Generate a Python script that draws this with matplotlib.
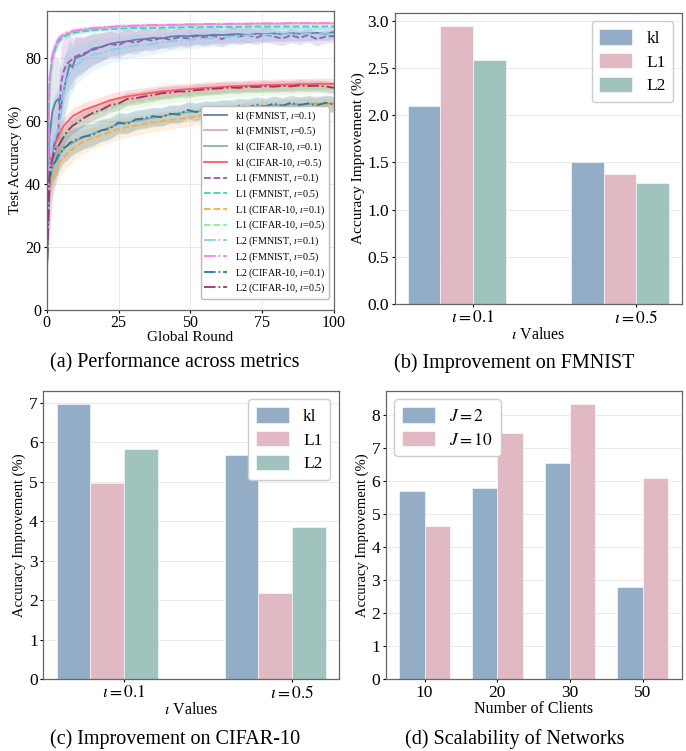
import matplotlib
matplotlib.use("Agg")
import matplotlib.pyplot as plt
from matplotlib.ticker import MultipleLocator
import numpy as np

plt.rcParams['font.family'] = ['Liberation Serif', 'DejaVu Serif']
plt.rcParams['mathtext.fontset'] = 'stix'

# ---- (a) test accuracy curves ----
rounds = [0, 1, 2, 3, 4, 5, 6, 7, 8, 9, 10, 13, 16, 19, 22, 25, 28, 31, 34, 37, 40,
          43, 46, 49, 52, 55, 58, 61, 64, 67, 70, 73, 76, 79, 82, 85, 88, 91, 94, 97, 100]

kl_fm1 = [12, 55, 63, 66, 67, 64, 70, 74, 78, 77, 80, 81, 83, 83.5, 84.5, 85, 85.3, 85.8, 86, 86.4, 86.2,
          86.8, 87, 86.9, 87.2, 87.1, 87.4, 87.3, 87.5, 87.6, 87.3, 87.7, 87.6, 87.8, 87.5, 87.9, 87.7, 87.8, 88, 87.6, 88.3]
kl_fm5 = [12, 72, 80, 83.5, 85.5, 86.5, 87.2, 87.6, 88, 88.3, 88.5, 89, 89.3, 89.6, 89.8, 90, 90.1, 90.2, 90.3, 90.4, 90.4,
          90.5, 90.5, 90.6, 90.6, 90.7, 90.7, 90.7, 90.8, 90.8, 90.8, 90.9, 90.9, 90.9, 90.9, 91, 91, 91, 91, 91, 91]
kl_c1 = [10, 40, 45, 47, 48, 50, 51, 52, 52.5, 53, 53.5, 55, 56, 57, 58, 59, 59.5, 60, 60.5, 61, 61.5,
         62, 62.5, 62.8, 63, 63.3, 63.5, 63.8, 64, 64.2, 64.4, 64.6, 64.8, 65, 65, 65.2, 65.3, 65.4, 65.5, 65.5, 65.6]
kl_c5 = [10, 45, 50, 53, 55, 57, 58.5, 59.5, 60.5, 61.5, 62, 63.5, 64.5, 65.5, 66.5, 67.2, 67.8, 68.2, 68.6, 69, 69.4,
         69.6, 69.9, 70.1, 70.3, 70.5, 70.6, 70.8, 71, 71.1, 71.2, 71.3, 71.4, 71.5, 71.5, 71.6, 71.7, 71.7, 71.8, 71.8, 71.8]
l1_fm1 = [12, 38, 50, 54, 56, 72, 76, 78, 79, 79.5, 80.5, 81.5, 82.5, 83.5, 84.5, 84, 85.5, 84.8, 86, 85.5, 86.5,
          85.8, 86.6, 86.2, 87, 86.5, 87.2, 86, 87.4, 86.8, 87.3, 86.5, 87.5, 86.8, 86.2, 87.2, 86.4, 87.3, 86, 86.8, 87]
l1_fm5 = [12, 73, 80, 83, 85, 86, 86.8, 87.2, 87.6, 87.9, 88.1, 88.5, 88.8, 89, 89.1, 89.3, 89.4, 89.5, 89.5, 89.6, 89.6,
          89.7, 89.7, 89.8, 89.8, 89.8, 89.9, 89.9, 89.9, 89.9, 90, 90, 90, 90, 90, 90, 90, 90, 90, 90, 90]
l1_c1 = [10, 38, 42, 44.5, 46, 47.5, 48.5, 49.5, 50.5, 51, 52, 53.5, 54.5, 55.5, 56.5, 57.5, 58, 58.5, 59, 59.5, 60,
         60.3, 60.7, 61, 61.4, 61.8, 62.2, 62.5, 62.8, 63, 63.3, 63.5, 63.8, 64, 64.2, 64.4, 64.6, 64.8, 65, 65.1, 65.2]
l1_c5 = [10, 42, 48, 51, 53, 54, 55.5, 56.5, 57.5, 58, 58.8, 60.5, 61.8, 62.8, 63.8, 64.8, 65.5, 66, 66.5, 67, 67.3,
         67.7, 68, 68.2, 68.5, 68.7, 68.9, 69.1, 69.3, 69.5, 69.6, 69.8, 69.9, 70, 70.1, 70.2, 70.3, 70.4, 70.5, 70.5, 70.6]
l2_fm1 = [12, 45, 52, 55, 58, 62, 70, 73, 75, 76, 77.5, 79.5, 81, 81.5, 82.5, 83, 83.5, 84, 84, 84.5, 85,
          85.3, 85.5, 85.8, 86, 86.2, 86.3, 86.6, 86.8, 87, 87.2, 87.3, 87.5, 87.4, 87.5, 87.6, 87.5, 87.7, 87.6, 87.8, 87.7]
l2_fm5 = [12, 74, 81, 84, 86, 87, 87.6, 88, 88.3, 88.6, 88.8, 89.2, 89.5, 89.7, 89.9, 90.1, 90.2, 90.3, 90.4, 90.5, 90.5,
          90.6, 90.6, 90.7, 90.7, 90.8, 90.8, 90.8, 90.9, 90.9, 90.9, 91, 91, 91, 91, 91.1, 91.1, 91.1, 91.1, 91.1, 91.1]
l2_c1 = [10, 42, 46, 47, 49, 50, 51.5, 52, 53, 53.5, 54, 55, 55.5, 57, 57.5, 59.5, 59, 60.5, 60.8, 61.5, 61.2,
         62.3, 62, 63.5, 62.8, 63.8, 63.5, 64.2, 64, 64.8, 64.3, 65.2, 64.6, 65.5, 64.8, 65.8, 65, 65.6, 64.9, 65.8, 65.2]
l2_c5 = [10, 44, 48, 51, 52, 53.5, 55, 56.5, 57.5, 58.5, 59, 61, 62.5, 63.5, 65, 65.5, 67, 67.2, 67.8, 68.2, 68.8,
         69, 69.4, 69.3, 69.8, 70, 70.2, 70.4, 70.6, 70.5, 70.9, 70.8, 71, 70.9, 71.1, 71, 71.3, 71.1, 71.2, 71, 70.5]

# spread (std) per setting, shared by the three metrics
std_fm1 = [5, 15, 15, 14, 13, 12, 10, 9, 8, 7, 6.5, 5.5, 5, 4.5, 4, 4, 3.8, 3.6, 3.5, 3.3, 3.2,
           3, 3, 2.9, 2.8, 2.8, 2.7, 2.6, 2.6, 2.5, 2.5, 2.4, 2.4, 2.3, 2.3, 2.3, 2.2, 2.2, 2.2, 2.1, 2.1]
std_fm5 = [3, 6, 3, 2, 1.5, 1.2, 1, 1, 0.9, 0.9, 0.8, 0.8, 0.8, 0.7, 0.7, 0.7, 0.7, 0.7, 0.7, 0.6, 0.6,
           0.6, 0.6, 0.6, 0.6, 0.6, 0.6, 0.6, 0.6, 0.6, 0.6, 0.6, 0.6, 0.6, 0.6, 0.6, 0.6, 0.6, 0.6, 0.6, 0.6]
std_c1 = [5, 6, 5, 5, 5, 4.5, 4.5, 4.5, 4.3, 4.2, 4, 3.8, 3.6, 3.5, 3.4, 3.3, 3.2, 3.1, 3, 3, 2.9,
          2.9, 2.8, 2.8, 2.8, 2.7, 2.7, 2.7, 2.6, 2.6, 2.6, 2.6, 2.5, 2.5, 2.5, 2.5, 2.5, 2.5, 2.5, 2.5, 2.5]
std_c5 = [5, 5, 4, 3.5, 3, 3, 2.8, 2.7, 2.6, 2.5, 2.5, 2.4, 2.3, 2.2, 2.2, 2.1, 2.1, 2, 2, 2, 2,
          2, 1.9, 1.9, 1.9, 1.9, 1.9, 1.9, 1.8, 1.8, 1.8, 1.8, 1.8, 1.8, 1.8, 1.8, 1.8, 1.8, 1.8, 1.8, 1.8]

curves = [
    ("kl (FMNIST, $\\iota$=0.1)", kl_fm1, std_fm1, '#5b85aa', '-'),
    ("kl (FMNIST, $\\iota$=0.5)", kl_fm5, std_fm5, '#dba7b6', '-'),
    ("kl (CIFAR-10, $\\iota$=0.1)", kl_c1, std_c1, '#82b3a8', '-'),
    ("kl (CIFAR-10, $\\iota$=0.5)", kl_c5, std_c5, '#ff5a5a', '-'),
    ("L1 (FMNIST, $\\iota$=0.1)", l1_fm1, std_fm1, '#9b59b6', '--'),
    ("L1 (FMNIST, $\\iota$=0.5)", l1_fm5, std_fm5, '#40d0c4', '--'),
    ("L1 (CIFAR-10, $\\iota$=0.1)", l1_c1, std_c1, '#ffaa40', '--'),
    ("L1 (CIFAR-10, $\\iota$=0.5)", l1_c5, std_c5, '#90ee90', '--'),
    ("L2 (FMNIST, $\\iota$=0.1)", l2_fm1, std_fm1, '#87ceeb', '-.'),
    ("L2 (FMNIST, $\\iota$=0.5)", l2_fm5, std_fm5, '#ee82ee', '-.'),
    ("L2 (CIFAR-10, $\\iota$=0.1)", l2_c1, std_c1, '#2e75a0', '-.'),
    ("L2 (CIFAR-10, $\\iota$=0.5)", l2_c5, std_c5, '#a0306a', '-.'),
]

# ---- (b), (c), (d) bar data ----
iota_labels = ['$\\iota=0.1$', '$\\iota=0.5$']
metrics = ['kl', 'L1', 'L2']
fmnist_kl = [2.10, 1.50]
fmnist_l1 = [2.94, 1.38]
fmnist_l2 = [2.58, 1.28]
cifar_kl = [6.96, 5.68]
cifar_l1 = [4.97, 2.18]
cifar_l2 = [5.83, 3.86]
clients = ['10', '20', '30', '50']
scal_j2 = [5.68, 5.79, 6.53, 2.78]
scal_j10 = [4.62, 7.45, 8.31, 6.08]

bar_colors = ['#94adc6', '#e1b9c3', '#a0c3bd']
spine_col = '#666666'
grid_col = '#ebebeb'

fig = plt.figure(figsize=(6.86, 7.51), dpi=100)
ax_a = fig.add_axes([0.068, 0.5876, 0.419, 0.398])
ax_b = fig.add_axes([0.5753, 0.5952, 0.419, 0.388])
ax_c = fig.add_axes([0.0631, 0.0955, 0.431, 0.3843])
ax_d = fig.add_axes([0.5622, 0.0955, 0.4315, 0.3843])

for ax in [ax_a, ax_b, ax_c, ax_d]:
    for s in ax.spines.values():
        s.set_color(spine_col)
        s.set_linewidth(0.9)
    ax.tick_params(colors='black', length=2.5, width=0.8, pad=1.5)

# (a)
x = np.array(rounds)
for label, vals, sd, col, ls in curves:
    v = np.array(vals)
    s = np.array(sd)
    ax_a.fill_between(x, v - s, v + s, color=col, alpha=0.18, linewidth=0)
    ax_a.plot(x, v, ls, color=col, linewidth=1.3, label=label)
ax_a.set_xlim(0, 100)
ax_a.set_ylim(0, 95)
ax_a.set_xticks([0, 25, 50, 75, 100])
ax_a.set_yticks([0, 20, 40, 60, 80])
ax_a.grid(True, color=grid_col, linewidth=0.7)
ax_a.set_axisbelow(True)
ax_a.tick_params(labelsize=11.5)
ax_a.set_xlabel('Global Round', fontsize=11, labelpad=0)
ax_a.set_ylabel('Test Accuracy (%)', fontsize=10.5, labelpad=2)
ax_a.legend(loc='lower right', fontsize=7.2, handlelength=2.3, labelspacing=0.22,
            borderpad=0.35, framealpha=1, edgecolor='#bbbbbb', fancybox=True,
            bbox_to_anchor=(1.0, 0.02))


def grouped(ax, groups, series, names, ylab, ylab_size):
    pos = np.arange(len(groups))
    w = 0.2
    for i, (vals, name) in enumerate(zip(series, names)):
        ax.bar(pos - 0.3 + i * w, vals, w, color=bar_colors[i], label=name,
               edgecolor='white', linewidth=0.4)
    ax.set_xticks(pos)
    ax.set_xticklabels(groups)
    ax.set_xlabel('$\\iota$ Values', fontsize=11.5, labelpad=0)
    ax.set_ylabel(ylab, fontsize=ylab_size, labelpad=2)
    ax.yaxis.grid(True, color=grid_col, linewidth=0.7)
    ax.set_axisbelow(True)
    ax.tick_params(labelsize=12.5)
    ax.legend(loc='upper right', fontsize=12.5, handlelength=1.9, handleheight=1.0,
              framealpha=1, edgecolor='#cccccc', fancybox=True, borderpad=0.45, labelspacing=0.35)


grouped(ax_b, iota_labels, [fmnist_kl, fmnist_l1, fmnist_l2], metrics, 'Accuracy Improvement (%)', 11)
grouped(ax_c, iota_labels, [cifar_kl, cifar_l1, cifar_l2], metrics, 'Accuracy Improvement (%)', 10.5)
ax_c.yaxis.set_major_locator(MultipleLocator(1))

# (d)
pos = np.arange(len(clients))
w = 0.35
ax_d.bar(pos - w / 2, scal_j2, w, color=bar_colors[0], label='$J=2$', edgecolor='white', linewidth=0.4)
ax_d.bar(pos + w / 2, scal_j10, w, color=bar_colors[1], label='$J=10$', edgecolor='white', linewidth=0.4)
ax_d.set_xticks(pos)
ax_d.set_xticklabels(clients)
ax_d.yaxis.set_major_locator(MultipleLocator(1))
ax_d.set_xlabel('Number of Clients', fontsize=11.5, labelpad=0)
ax_d.set_ylabel('Accuracy Improvement (%)', fontsize=10.5, labelpad=2)
ax_d.yaxis.grid(True, color=grid_col, linewidth=0.7)
ax_d.set_axisbelow(True)
ax_d.tick_params(labelsize=12.5)
ax_d.legend(loc='upper left', fontsize=12.5, handlelength=1.9, handleheight=1.0,
            framealpha=1, edgecolor='#cccccc', fancybox=True, borderpad=0.45, labelspacing=0.35)

# captions
cap = 14.5
fig.text(0.255, 0.517, '(a) Performance across metrics', ha='center', va='center', fontsize=cap)
fig.text(0.75, 0.517, '(b) Improvement on FMNIST', ha='center', va='center', fontsize=cap)
fig.text(0.255, 0.016, '(c) Improvement on CIFAR-10', ha='center', va='center', fontsize=cap)
fig.text(0.75, 0.016, '(d) Scalability of Networks', ha='center', va='center', fontsize=cap)

fig.savefig('out.png', dpi=100)
